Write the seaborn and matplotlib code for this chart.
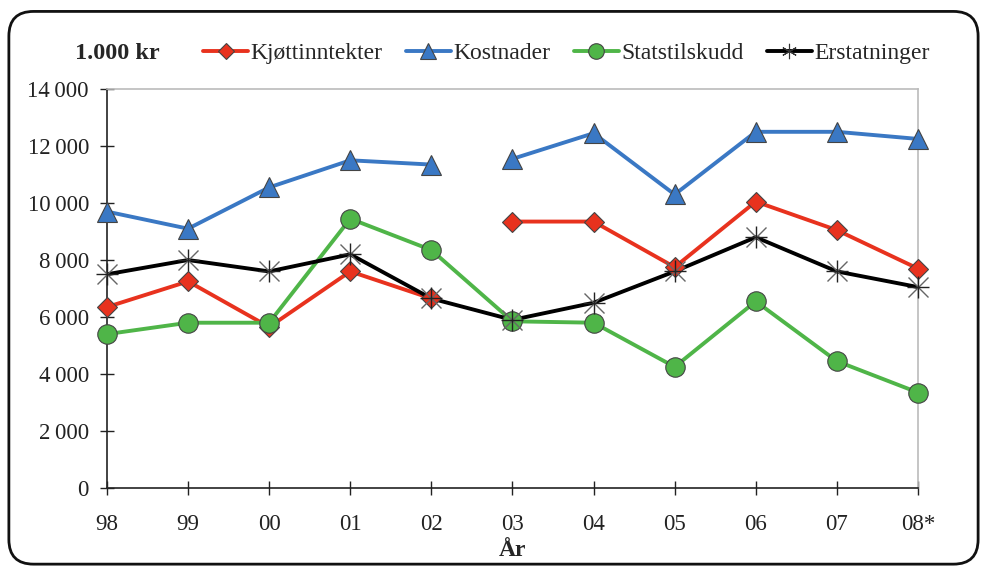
import numpy as np
import pandas as pd
import seaborn as sns
import matplotlib.pyplot as plt
from matplotlib.patches import FancyBboxPatch

years = ['98', '99', '00', '01', '02', '03', '04', '05', '06', '07', '08*']
kjott = [6350, 7250, 5650, 7600, 6650, 9350, 9350, 7750, 10050, 9050, 7700]
kostnader = [9700, 9100, 10550, 11500, 11350, 11550, 12450, 10300, 12500, 12500, 12250]
statstilskudd = [5400, 5800, 5800, 9450, 8350, 5850, 5800, 4250, 6550, 4450, 3350]
erstatninger = [7500, 8000, 7600, 8200, 6650, 5900, 6500, 7600, 8800, 7600, 7050]
# line is broken between 02 and 03 for these two series
breaks = {'Kjøttinntekter': 5, 'Kostnader': 5}

sns.set_style('white')
plt.rcParams['font.family'] = ['Liberation Serif', 'DejaVu Serif']

fig = plt.figure(figsize=(9.86, 5.71), dpi=100)
ax = fig.add_axes([0.1085, 0.1454, 0.8225, 0.6986])

styles = [
    ('Kjøttinntekter', kjott, '#e8321e', 'D', 10),
    ('Kostnader', kostnader, '#3a78c4', '^', 14),
    ('Statstilskudd', statstilskudd, '#4fb548', 'o', 14),
    ('Erstatninger', erstatninger, '#000000', 'x', 14),
]

handles = []
for name, vals, color, marker, ms in styles:
    df = pd.DataFrame({'x': np.arange(len(years)), 'y': vals})
    cut = breaks.get(name)
    segs = [df] if cut is None else [df.iloc[:cut], df.iloc[cut:]]
    for seg in segs:
        sns.lineplot(data=seg, x='x', y='y', ax=ax, color=color, lw=2.8,
                     zorder=2)
    if marker == 'x':
        ax.plot(df['x'], df['y'], ls='none', marker='x', ms=ms, mew=1.0,
                color='#666666', clip_on=False, zorder=3)
        ax.plot(df['x'], df['y'], ls='none', marker='+', ms=ms + 2, mew=1.0,
                color='#222222', clip_on=False, zorder=3)
        h = plt.Line2D([], [], color=color, lw=2.8, marker=(6, 2, 0),
                       ms=11, mew=0.8, mec='#333333')
    else:
        ax.plot(df['x'], df['y'], ls='none', marker=marker, ms=ms,
                mfc=color, mec='#444444', mew=0.8, clip_on=False, zorder=3)
        h = plt.Line2D([], [], color=color, lw=2.8, marker=marker,
                       ms=ms * 0.8, mfc=color, mec='#444444', mew=0.8)
    handles.append(h)

ax.set_xlim(0, 10)
ax.set_ylim(0, 14000)
ax.set_xticks(range(len(years)))
ax.set_xticklabels(years)
ax.set_yticks(range(0, 14001, 2000))
ax.set_yticklabels([f'{v:,}'.replace(',', '\u2009') if v >= 1000 else str(v)
                    for v in range(0, 14001, 2000)])
ax.tick_params(axis='both', direction='inout', length=10, width=1,
               labelsize=16.5, colors='#222222', bottom=True, left=True)
ax.tick_params(axis='x', pad=14)
ax.tick_params(axis='y', pad=8)
ax.set_xlabel('År', fontsize=17, fontweight='bold', labelpad=3)
ax.set_ylabel('')
for s in ['left', 'bottom']:
    ax.spines[s].set_color('#222222')
    ax.spines[s].set_linewidth(1.2)
for s in ['top', 'right']:
    ax.spines[s].set_color('#bbbbbb')
    ax.spines[s].set_linewidth(1.2)

fig.text(0.076, 0.906, '1.000 kr', fontsize=17.5, fontweight='bold',
         va='center', ha='left')
fig.legend(handles, [s[0] for s in styles], loc='center left',
           bbox_to_anchor=(0.206, 0.906), ncol=4, frameon=False, fontsize=17,
           handlelength=1.9, handletextpad=0.1, columnspacing=1.0,
           borderpad=0, borderaxespad=0)

frame = FancyBboxPatch((0.009, 0.012), 0.983, 0.968,
                       boxstyle='round,pad=0,rounding_size=0.025',
                       transform=fig.transFigure, fill=False,
                       ec='#111111', lw=2, mutation_aspect=986 / 571)
fig.patches.append(frame)

fig.savefig('out.png', dpi=100)
